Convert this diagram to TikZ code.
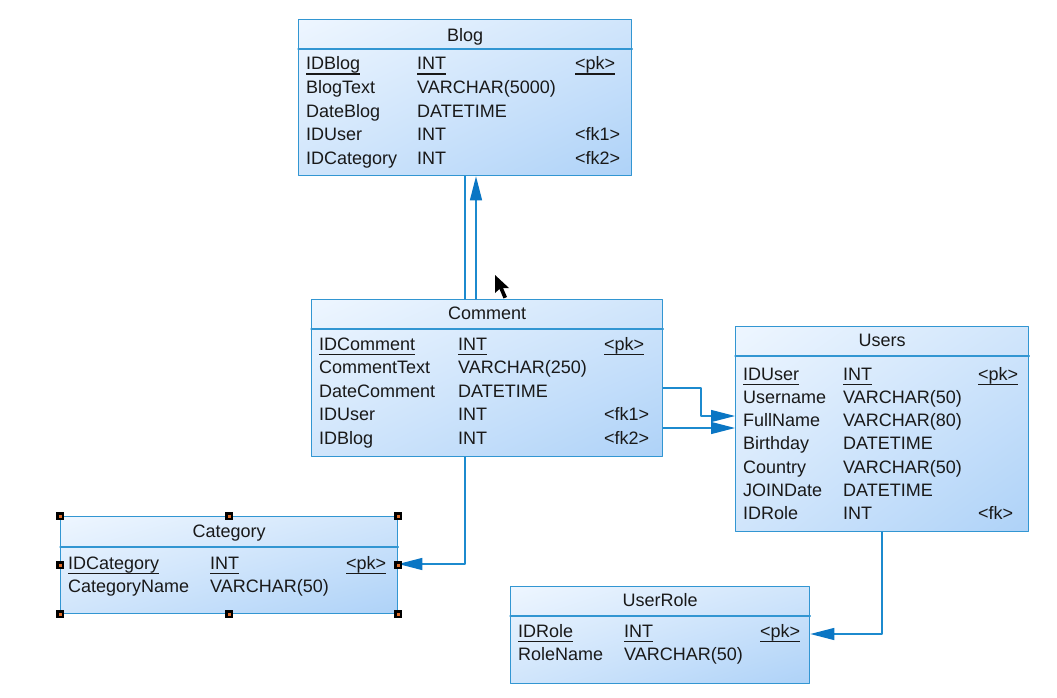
\documentclass[tikz,border=0pt]{standalone}
\usepackage{fontspec}
\setmainfont{Liberation Sans}
\usetikzlibrary{arrows.meta,shadings}
\definecolor{erlight}{RGB}{238,246,255}
\definecolor{ermid}{RGB}{208,229,251}
\definecolor{erdark}{RGB}{174,210,248}
\definecolor{erline}{RGB}{50,150,210}
\definecolor{erlink}{RGB}{28,138,206}
\definecolor{erarrow}{RGB}{10,118,196}
\definecolor{ertext}{RGB}{25,25,25}
\definecolor{erhandle}{RGB}{225,110,40}
\newcommand{\pkul}[1]{\setbox0\hbox{#1}\rlap{\rule[-4.6pt]{\wd0}{1.1pt}}\box0}
\tikzset{
  tablebox/.style={draw=erline,line width=1.3pt,shade,upper left=erlight,upper right=ermid,
    lower left=ermid,lower right=erdark,anchor=north west,inner sep=0pt},
  divider/.style={draw=erline,line width=1.3pt},
  field/.style={anchor=base west,inner sep=0pt,text=ertext},
  tabtitle/.style={anchor=base,inner sep=0pt,text=ertext},
  fklink/.style={draw=erlink,line width=1.3pt},
  fkarrow/.style={fklink,-{Triangle[length=24pt,width=12pt,fill=erarrow,color=erarrow]}},
  handle/.style={fill=black,minimum size=8pt,inner sep=0pt,
    path picture={\fill[erhandle] ([shift={(-1.5pt,-1.5pt)}]path picture bounding box.center) rectangle ++(3pt,3pt);}}
}

\begin{document}
\begin{tikzpicture}[x=1pt,y=-1pt,line cap=round,line join=round,every node/.style={font=\fontsize{18}{21}\selectfont}]
  \useasboundingbox (0,0) rectangle (1057,698);
  % Blog
  \node[tablebox,minimum width=333pt,minimum height=156pt] (blog) at (298,19) {};
  \draw[divider] (blog.west |- 0,49) -- (blog.east |- 0,49);
  \node[tabtitle] (blog-title) at (blog.north |- 0,42) {Blog};
  \node[field] (blog-n1) at (306,70) {\pkul{IDBlog}};
  \node[field] (blog-t1) at (417,70) {\pkul{INT}};
  \node[field] (blog-k1) at (575,70) {\pkul{<pk>}};
  \foreach \n/\t/\k [count=\i from 2] in {BlogText/VARCHAR(5000)/{},DateBlog/DATETIME/{},IDUser/INT/<fk1>,IDCategory/INT/<fk2>}{
    \node[field] (blog-n\i) at (306,{70+23.6*(\i-1)}) {\n};
    \node[field] (blog-t\i) at (417,{70+23.6*(\i-1)}) {\t};
    \node[field] (blog-k\i) at (575,{70+23.6*(\i-1)}) {\k};
  }
  % Comment
  \node[tablebox,minimum width=351pt,minimum height=157pt] (comment) at (311,299) {};
  \draw[divider] (comment.west |- 0,329) -- (comment.east |- 0,329);
  \node[tabtitle] (comment-title) at (comment.north |- 0,319) {Comment};
  \node[field] (comment-n1) at (319,350.3) {\pkul{IDComment}};
  \node[field] (comment-t1) at (458,350.3) {\pkul{INT}};
  \node[field] (comment-k1) at (604,350.3) {\pkul{<pk>}};
  \foreach \n/\t/\k [count=\i from 2] in {CommentText/VARCHAR(250)/{},DateComment/DATETIME/{},IDUser/INT/<fk1>,IDBlog/INT/<fk2>}{
    \node[field] (comment-n\i) at (319,{350.3+23.5*(\i-1)}) {\n};
    \node[field] (comment-t\i) at (458,{350.3+23.5*(\i-1)}) {\t};
    \node[field] (comment-k\i) at (604,{350.3+23.5*(\i-1)}) {\k};
  }
  % Users
  \node[tablebox,minimum width=293pt,minimum height=205pt] (users) at (735,326) {};
  \draw[divider] (users.west |- 0,356) -- (users.east |- 0,356);
  \node[tabtitle] (users-title) at (users.north |- 0,346.7) {Users};
  \node[field] (users-n1) at (743,380) {\pkul{IDUser}};
  \node[field] (users-t1) at (843,380) {\pkul{INT}};
  \node[field] (users-k1) at (978,380) {\pkul{<pk>}};
  \foreach \n/\t/\k [count=\i from 2] in {Username/VARCHAR(50)/{},FullName/VARCHAR(80)/{},Birthday/DATETIME/{},Country/VARCHAR(50)/{},JOINDate/DATETIME/{},IDRole/INT/<fk>}{
    \node[field] (users-n\i) at (743,{380+23.3*(\i-1)}) {\n};
    \node[field] (users-t\i) at (843,{380+23.3*(\i-1)}) {\t};
    \node[field] (users-k\i) at (978,{380+23.3*(\i-1)}) {\k};
  }
  % Category
  \node[tablebox,minimum width=337pt,minimum height=97pt] (category) at (60,516) {};
  \draw[divider] (category.west |- 0,547) -- (category.east |- 0,547);
  \node[tabtitle] (category-title) at (category.north |- 0,537) {Category};
  \node[field] (category-n1) at (68,569) {\pkul{IDCategory}};
  \node[field] (category-t1) at (210,569) {\pkul{INT}};
  \node[field] (category-k1) at (346,569) {\pkul{<pk>}};
  \node[field] (category-n2) at (68,592) {CategoryName};
  \node[field] (category-t2) at (210,592) {VARCHAR(50)};
  % UserRole
  \node[tablebox,minimum width=299pt,minimum height=97pt] (userrole) at (510,586) {};
  \draw[divider] (userrole.west |- 0,616) -- (userrole.east |- 0,616);
  \node[tabtitle] (userrole-title) at (userrole.north |- 0,606.5) {UserRole};
  \node[field] (userrole-n1) at (518,637) {\pkul{IDRole}};
  \node[field] (userrole-t1) at (624,637) {\pkul{INT}};
  \node[field] (userrole-k1) at (760,637) {\pkul{<pk>}};
  \node[field] (userrole-n2) at (518,660.5) {RoleName};
  \node[field] (userrole-t2) at (624,660.5) {VARCHAR(50)};
  % references
  \draw[fklink] (comment.north -| 465,0) -- (blog.south -| 465,0);
  \draw[fkarrow] (comment.north -| 476,0) -- (blog.south -| 476,0);
  \draw[fkarrow] (comment.east |- 0,388) -- (701,388) |- (users.west |- 0,416);
  \draw[fkarrow] (comment.east |- 0,428) -- (users.west |- 0,428);
  \draw[fkarrow] (comment.south -| 465,0) |- (category.east |- 0,564);
  \draw[fkarrow] (users.south -| 882,0) |- (userrole.east |- 0,634);
  % selection handles
  \foreach \p/\q in {north west/nw,north/n,north east/ne,west/w,east/e,south west/sw,south/s,south east/se}
    \node[handle] (handle-\q) at (category.\p) {};
  % mouse pointer
  \fill[black] (495,275) -- (495,293) -- (499.5,289) -- (503.5,298.5) -- (507,297) -- (503,288) -- (509,288) -- cycle;
\end{tikzpicture}
\end{document}
